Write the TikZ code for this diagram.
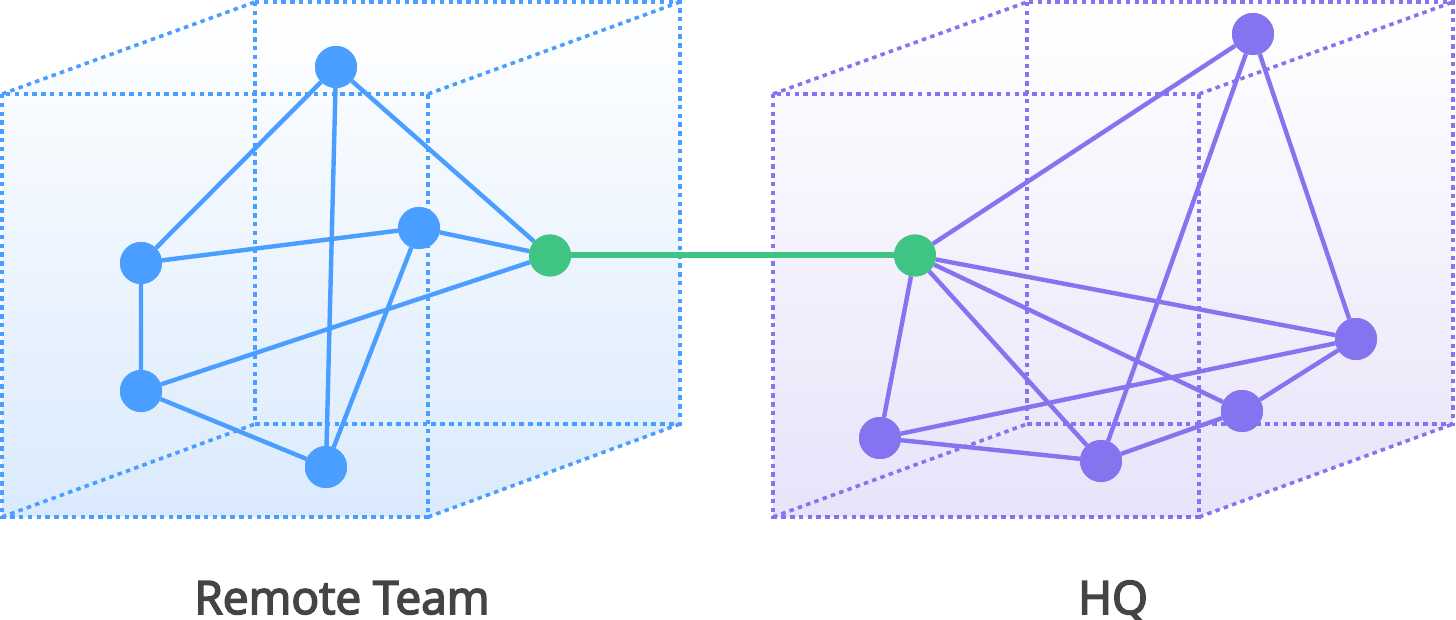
\documentclass[tikz,border=0pt]{standalone}
\usepackage{fontspec}
\newfontfamily\lblfont{Open Sans}[FakeBold=3.5]
\definecolor{bl}{RGB}{74,158,255}
\definecolor{pu}{RGB}{132,116,240}
\definecolor{gr}{RGB}{64,196,131}
\definecolor{blfill}{RGB}{218,234,253}
\definecolor{pufill}{RGB}{232,227,250}
\definecolor{txt}{RGB}{68,68,68}
\tikzset{
  dotline/.style={line width=3.6pt, dash pattern=on 4.5pt off 4.3pt},
  bedge/.style={draw=bl, line width=4.4pt},
  pedge/.style={draw=pu, line width=4.4pt},
  bdot/.style={circle, fill=bl, minimum size=42pt, inner sep=0pt},
  pdot/.style={circle, fill=pu, minimum size=42pt, inner sep=0pt},
  gdot/.style={circle, fill=gr, minimum size=42pt, inner sep=0pt},
  lbl/.style={font=\lblfont\fontsize{46}{50}\selectfont, text=txt, anchor=base, inner sep=0pt}
}
\begin{document}
\begin{tikzpicture}[x=1pt,y=-1pt]
\useasboundingbox (0,0) rectangle (1456,620);
% left cube
\coordinate (lf1) at (2,94);
\coordinate (lf2) at (428,94);
\coordinate (lf3) at (428,517);
\coordinate (lf4) at (2,517);
\coordinate (lb1) at (255,2);
\coordinate (lb2) at (680,2);
\coordinate (lb3) at (680,424);
\coordinate (lb4) at (255,424);
\shade[top color=white, bottom color=blfill] (lf1) -- (lb1) -- (lb2) -- (lb3) -- (lf3) -- (lf4) -- cycle;
\draw[dotline, bl] (lf1) rectangle (lf3);
\draw[dotline, bl] (lb1) rectangle (lb3);
\draw[dotline, bl] (lf1) -- (lb1) (lf2) -- (lb2) (lf3) -- (lb3) (lf4) -- (lb4);
% right cube
\coordinate (rf1) at (773,94);
\coordinate (rf2) at (1199,94);
\coordinate (rf3) at (1199,517);
\coordinate (rf4) at (773,517);
\coordinate (rb1) at (1027,2);
\coordinate (rb2) at (1453,2);
\coordinate (rb3) at (1453,424);
\coordinate (rb4) at (1027,424);
\shade[top color=white, bottom color=pufill] (rf1) -- (rb1) -- (rb2) -- (rb3) -- (rf3) -- (rf4) -- cycle;
\draw[dotline, pu] (rf1) rectangle (rf3);
\draw[dotline, pu] (rb1) rectangle (rb3);
\draw[dotline, pu] (rf1) -- (rb1) (rf2) -- (rb2) (rf3) -- (rb3) (rf4) -- (rb4);
% left nodes
\node[bdot] (A) at (336,67) {};
\node[bdot] (B) at (141,263) {};
\node[bdot] (C) at (419,228) {};
\node[bdot] (D) at (141,391) {};
\node[bdot] (E) at (326,467) {};
\node[gdot] (G1) at (550,255.5) {};
% right nodes
\node[gdot] (G2) at (915,255.5) {};
\node[pdot] (P1) at (1253,34) {};
\node[pdot] (P2) at (1356,339) {};
\node[pdot] (P3) at (1242,411) {};
\node[pdot] (P4) at (1101,461) {};
\node[pdot] (P5) at (880,438) {};
% edges
\draw[bedge] (A) -- (B) (A) -- (E) (A) -- (G1) (B) -- (C) (B) -- (D) (C) -- (G1) (C) -- (E) (D) -- (G1) (D) -- (E);
\draw[pedge] (G2) -- (P1) (G2) -- (P2) (G2) -- (P3) (G2) -- (P4) (G2) -- (P5) (P1) -- (P4) (P1) -- (P2) (P2) -- (P5) (P2) -- (P3) (P3) -- (P4) (P4) -- (P5);
\draw[gr, line width=6pt] (G1) -- (G2);
% nodes drawn again above the connectors
\foreach \n/\s in {A/bdot, B/bdot, C/bdot, D/bdot, E/bdot, G1/gdot, G2/gdot, P1/pdot, P2/pdot, P3/pdot, P4/pdot, P5/pdot}
  \node[\s] at (\n.center) {};
% labels
\node[lbl] (lt) at (342,614) {Remote Team};
\node[lbl] (rt) at (1113,614) {HQ};
\end{tikzpicture}
\end{document}
